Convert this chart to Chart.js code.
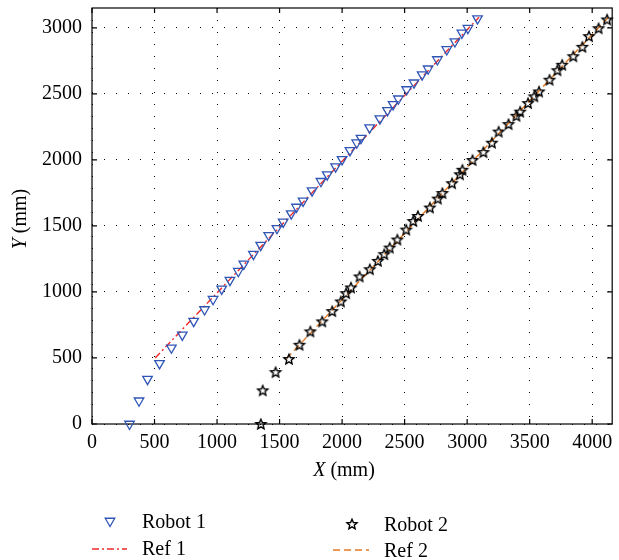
<!DOCTYPE html>
<html>
<head>
<meta charset="utf-8">
<script src="https://cdn.jsdelivr.net/npm/chart.js@4"></script>
<style>
  html, body { margin: 0; padding: 0; background: #fff; }
  #wrap { width: 619px; height: 560px; }
</style>
</head>
<body>
<div id="wrap"><canvas id="c" width="619" height="560"></canvas></div>
<script>
// Measured trajectories (mm)
const robot1X = [300, 376, 444, 540, 635, 722, 813, 900, 968, 1037, 1103, 1170, 1214, 1291, 1349, 1413, 1479, 1529, 1593, 1635, 1688, 1760, 1831, 1881, 1948, 2000, 2063, 2117, 2151, 2220, 2302, 2363, 2408, 2450, 2516, 2575, 2640, 2688, 2762, 2837, 2902, 2958, 3006, 3083];
const robot1Y = [0, 176, 340, 459, 577, 675, 779, 867, 945, 1023, 1089, 1157, 1212, 1286, 1354, 1429, 1482, 1530, 1593, 1643, 1689, 1767, 1838, 1888, 1949, 2004, 2072, 2130, 2165, 2244, 2312, 2375, 2420, 2463, 2533, 2584, 2645, 2690, 2760, 2836, 2896, 2962, 2997, 3070];

const robot2X = [1350, 1365, 1468, 1575, 1659, 1746, 1841, 1921, 1990, 2032, 2071, 2140, 2222, 2286, 2337, 2381, 2442, 2513, 2569, 2606, 2702, 2765, 2802, 2879, 2942, 2962, 3043, 3130, 3198, 3252, 3331, 3394, 3424, 3487, 3537, 3575, 3659, 3722, 3760, 3849, 3921, 3974, 4051, 4119];
const robot2Y = [0, 255, 393, 492, 600, 701, 777, 855, 928, 991, 1034, 1117, 1172, 1235, 1286, 1336, 1397, 1472, 1537, 1575, 1639, 1707, 1749, 1823, 1891, 1925, 1999, 2059, 2130, 2214, 2271, 2334, 2365, 2430, 2481, 2518, 2607, 2679, 2720, 2785, 2856, 2937, 2997, 3063];

// Reference paths (mm)
const ref1X = [505, 3095];
const ref1Y = [500, 3080];
const ref2X = [1555, 4135];
const ref2Y = [495, 3085];

// Axis ticks
const xTicks = [0, 500, 1000, 1500, 2000, 2500, 3000, 3500, 4000];
const yTicks = [0, 500, 1000, 1500, 2000, 2500, 3000];

const FONT = '"Liberation Serif", "Times New Roman", serif';
const FSIZE = 20;
const BLUE = '#2f55b5';
const RED = '#f02a2a';
const ORANGE = '#e67a22';

const pts = (xs, ys) => xs.map((v, i) => ({ x: v, y: ys[i] }));

// Five-pointed outlined star used as a marker
function makeStar(r, color, lw) {
  const s = 2 * Math.ceil(r + lw + 1);
  const c = document.createElement('canvas');
  c.width = s; c.height = s;
  const g = c.getContext('2d');
  g.translate(s / 2, s / 2 + 0.5);
  g.beginPath();
  for (let i = 0; i < 10; i++) {
    const rr = i % 2 ? r * 0.45 : r;
    const a = -Math.PI / 2 + i * Math.PI / 5;
    g.lineTo(rr * Math.cos(a), rr * Math.sin(a));
  }
  g.closePath();
  g.lineJoin = 'miter';
  g.lineWidth = lw;
  g.strokeStyle = color;
  g.stroke();
  return c;
}
const starImg = makeStar(5.3, '#000', 1.4);

// Pin the plot area: no extra room reserved for overhanging tick labels
const noOverhang = s => { s.paddingLeft = 0; s.paddingRight = 0; s.paddingTop = 0; s.paddingBottom = 0; };

// Box with inward tick marks on all four sides
const framePlugin = {
  id: 'frame',
  beforeDatasetsDraw(chart) {
    const { ctx, chartArea: a, scales: { x, y } } = chart;
    ctx.save();
    ctx.strokeStyle = '#000';
    ctx.lineWidth = 1.2;
    ctx.strokeRect(a.left, a.top, a.right - a.left, a.bottom - a.top);
    ctx.beginPath();
    for (const v of xTicks) {
      const px = x.getPixelForValue(v);
      ctx.moveTo(px, a.bottom); ctx.lineTo(px, a.bottom - 5);
      ctx.moveTo(px, a.top); ctx.lineTo(px, a.top + 5);
    }
    for (const v of yTicks) {
      const py = y.getPixelForValue(v);
      ctx.moveTo(a.left, py); ctx.lineTo(a.left + 5, py);
      ctx.moveTo(a.right, py); ctx.lineTo(a.right - 5, py);
    }
    ctx.stroke();
    ctx.restore();
  }
};

// Axis titles with an italic variable name
function drawMixed(ctx, parts, cx, baseY) {
  let total = 0;
  const widths = parts.map(p => { ctx.font = p.font; const w = ctx.measureText(p.text).width; total += w; return w; });
  let x0 = cx - total / 2;
  parts.forEach((p, i) => { ctx.font = p.font; ctx.fillText(p.text, x0, baseY); x0 += widths[i]; });
}
const titlePlugin = {
  id: 'axisTitles',
  afterDraw(chart) {
    const ctx = chart.ctx;
    ctx.save();
    ctx.fillStyle = '#000';
    ctx.textBaseline = 'alphabetic';
    ctx.textAlign = 'left';
    const it = `italic ${FSIZE}px ${FONT}`, rg = `${FSIZE}px ${FONT}`;
    drawMixed(ctx, [{ text: 'X', font: it }, { text: ' (mm)', font: rg }], 344, 476);
    ctx.translate(26, 219);
    ctx.rotate(-Math.PI / 2);
    drawMixed(ctx, [{ text: 'Y', font: it }, { text: ' (mm)', font: rg }], 0, 0);
    ctx.restore();
  }
};

// Two-column legend below the axes
const legendPlugin = {
  id: 'legendGrid',
  afterDraw(chart, args, opts) {
    const ctx = chart.ctx;
    ctx.save();
    ctx.font = `${FSIZE}px ${FONT}`;
    ctx.fillStyle = '#000';
    ctx.textBaseline = 'alphabetic';
    ctx.textAlign = 'left';
    opts.items.forEach(item => {
      const ds = chart.data.datasets[item.index];
      if (item.kind === 'tri') {
        const r = 5.5, cx = item.sx, cy = item.sy;
        ctx.beginPath();
        for (let k = 0; k < 3; k++) {
          const a = Math.PI + k * 2 * Math.PI / 3;
          ctx.lineTo(cx + Math.sin(a) * r, cy - Math.cos(a) * r);
        }
        ctx.closePath();
        ctx.strokeStyle = ds.borderColor;
        ctx.lineWidth = ds.borderWidth;
        ctx.stroke();
      } else if (item.kind === 'star') {
        ctx.drawImage(starImg, Math.round(item.sx - starImg.width / 2), Math.round(item.sy - starImg.height / 2));
      } else {
        ctx.beginPath();
        ctx.setLineDash(ds.borderDash || []);
        ctx.strokeStyle = ds.borderColor;
        ctx.lineWidth = ds.borderWidth;
        ctx.moveTo(item.sx, item.sy);
        ctx.lineTo(item.sx2, item.sy);
        ctx.stroke();
        ctx.setLineDash([]);
      }
      ctx.fillStyle = '#000';
      ctx.fillText(ds.label, item.tx, item.ty);
    });
    ctx.restore();
  }
};

new Chart(document.getElementById('c'), {
  type: 'scatter',
  data: {
    datasets: [
      {
        label: 'Robot 1',
        data: pts(robot1X, robot1Y),
        pointStyle: 'triangle',
        rotation: 180,
        pointRadius: 5.5,
        borderColor: BLUE,
        backgroundColor: 'rgba(0,0,0,0)',
        borderWidth: 1.3,
        showLine: false,
        clip: false,
        order: 1
      },
      {
        label: 'Ref 1',
        data: pts(ref1X, ref1Y),
        showLine: true,
        pointRadius: 0,
        borderColor: RED,
        borderWidth: 1.4,
        borderDash: [7, 3, 2, 3],
        order: 2
      },
      {
        label: 'Robot 2',
        data: pts(robot2X, robot2Y),
        pointStyle: starImg,
        pointRadius: 5.5,
        borderColor: '#000',
        backgroundColor: 'rgba(0,0,0,0)',
        borderWidth: 1.3,
        showLine: false,
        clip: false,
        order: 1
      },
      {
        label: 'Ref 2',
        data: pts(ref2X, ref2Y),
        showLine: true,
        pointRadius: 0,
        borderColor: ORANGE,
        borderWidth: 1.4,
        borderDash: [7, 4],
        order: 2
      }
    ]
  },
  options: {
    responsive: false,
    animation: false,
    devicePixelRatio: 1,
    events: [],
    layout: { padding: { top: 8, right: 2, left: 0, bottom: 0 } },
    plugins: {
      legend: { display: false },
      tooltip: { enabled: false },
      legendGrid: {
        items: [
          { index: 0, kind: 'tri', sx: 110, sy: 521, tx: 142, ty: 528 },
          { index: 1, kind: 'line', sx: 92, sx2: 127, sy: 549, tx: 142, ty: 555 },
          { index: 2, kind: 'star', sx: 352, sy: 524, tx: 384, ty: 530.5 },
          { index: 3, kind: 'line', sx: 333, sx2: 369, sy: 550, tx: 384, ty: 557 }
        ]
      }
    },
    scales: {
      x: {
        type: 'linear',
        min: 0,
        max: 4160,
        afterFit: s => { s.height = 136; noOverhang(s); },
        afterBuildTicks: s => { s.ticks = xTicks.map(v => ({ value: v })); },
        grid: { color: '#000', lineWidth: 1, drawTicks: false },
        border: { display: false, dash: [1, 11] },
        ticks: {
          padding: 7,
          color: '#000',
          font: { family: FONT, size: FSIZE },
          maxRotation: 0,
          callback: v => String(v)
        }
      },
      y: {
        type: 'linear',
        min: 0,
        max: 3150,
        afterFit: s => { s.width = 92; noOverhang(s); },
        afterBuildTicks: s => { s.ticks = yTicks.map(v => ({ value: v })); },
        grid: { color: '#000', lineWidth: 1, drawTicks: false },
        border: { display: false, dash: [1, 11] },
        ticks: {
          padding: 10,
          color: '#000',
          font: { family: FONT, size: FSIZE },
          callback: v => String(v)
        }
      }
    }
  },
  plugins: [framePlugin, titlePlugin, legendPlugin]
});
</script>
</body>
</html>
